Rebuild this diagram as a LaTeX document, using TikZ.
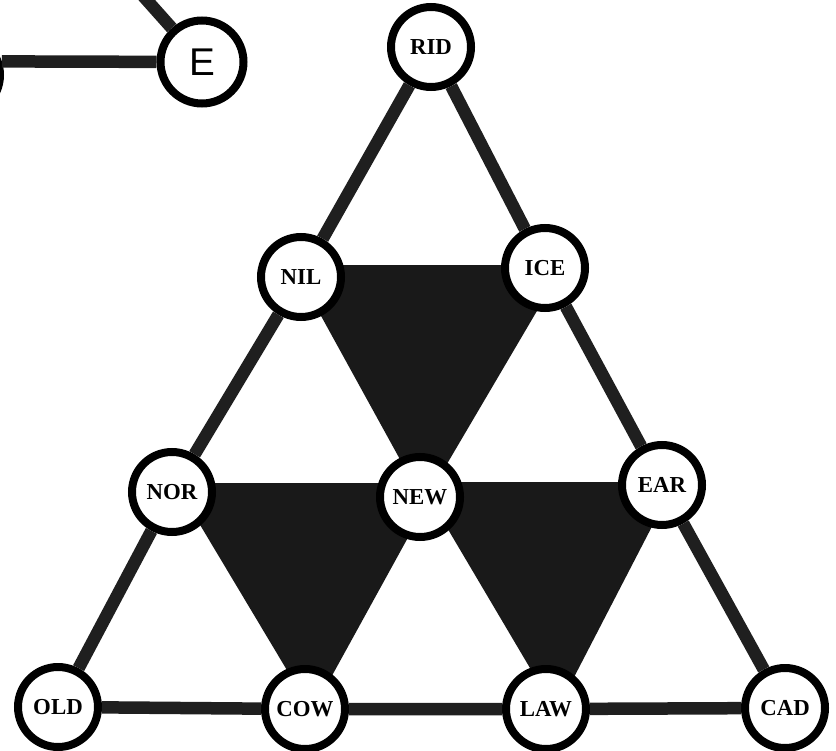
\documentclass[tikz,border=0pt]{standalone}
\usepackage{fontspec}
\setmainfont{Liberation Serif}
\newfontfamily\efont{Liberation Sans}

\begin{document}
\begin{tikzpicture}[vtx/.style={draw,circle,line width=0.16cm,fill=white,minimum size=1.6cm,inner sep=0pt,font=\fontsize{13}{15}\selectfont\bfseries},
    lnk/.style={line width=0.25cm,black!88},
    blk/.style={fill=black!90}]
\useasboundingbox (0,0) rectangle (16.72,15);
% dark triangles
\fill[blk](5.86,9.70)--(11.28,9.70)--(8.48,4.94)--cycle;
\fill[blk](3.50,5.34)--(8.76,5.34)--(6.24,0.76)--cycle;
\fill[blk](8.40,5.36)--(13.50,5.36)--(11.12,0.76)--cycle;
% words
\node[vtx](RID) at (8.62,14.06){RID};
\node[vtx](NIL) at (6.02,9.46){NIL};
\node[vtx](ICE) at (10.90,9.64){ICE};
\node[vtx](NOR) at (3.44,5.16){NOR};
\node[vtx](NEW) at (8.40,5.06){NEW};
\node[vtx](EAR) at (13.24,5.30){EAR};
\node[vtx](OLD) at (1.16,0.86){OLD};
\node[vtx](COW) at (6.10,0.82){COW};
\node[vtx](LAW) at (10.92,0.82){LAW};
\node[vtx](CAD) at (15.70,0.84){CAD};
\node[vtx,minimum size=1.66cm,font=\efont\fontsize{22}{24}\selectfont](E) at (4.04,13.76){E};
\node[vtx](Lft) at (-0.80,13.50){};
\coordinate (Top) at (2.40,15.60);
% links
\draw[lnk](RID)--(NIL)--(NOR)--(OLD)--(COW)--(LAW)--(CAD)--(EAR)--(ICE)--(RID);
\draw[lnk](Lft.18)--(E)--(Top);
\end{tikzpicture}
\end{document}
